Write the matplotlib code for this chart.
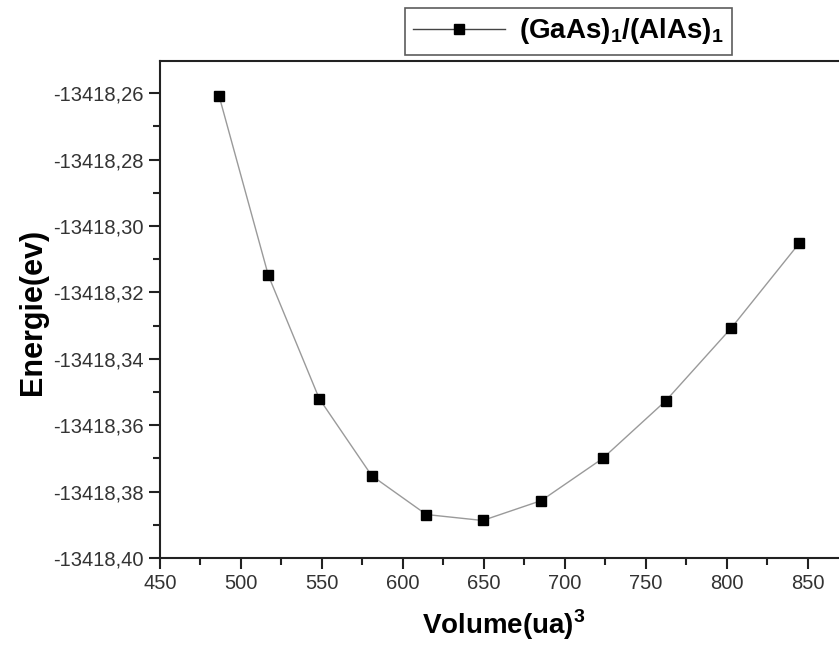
import matplotlib
matplotlib.use("Agg")
import matplotlib.pyplot as plt
from matplotlib.ticker import MultipleLocator, FuncFormatter

plt.rcParams['font.family'] = ['Liberation Sans', 'DejaVu Sans']
plt.rcParams['mathtext.fontset'] = 'custom'
plt.rcParams['mathtext.rm'] = 'Liberation Sans'
plt.rcParams['mathtext.bf'] = 'Liberation Sans:bold'

# data
volume = [486.4, 516.9, 548.3, 580.7, 614.4, 649.2, 685.4, 723.3, 762.3, 802.7, 844.6]
energie = [-13418.2607, -13418.3149, -13418.3520, -13418.3752, -13418.3869, -13418.3887,
           -13418.3827, -13418.3700, -13418.3526, -13418.3307, -13418.3052]
serie_label = r'$\mathbf{(GaAs)_1/(AlAs)_1}$'

fig = plt.figure(figsize=(8.39, 6.46), dpi=100)
ax = fig.add_axes([0.1907, 0.1362, 0.8206, 0.7694])

ax.plot(volume, energie, color='#9a9a9a', lw=1, marker='s', ms=6.5,
        mfc='black', mec='black', label=serie_label)

ax.set_xlim(450, 875)
ax.set_ylim(-13418.40, -13418.2503)
ax.xaxis.set_major_locator(MultipleLocator(50))
ax.xaxis.set_minor_locator(MultipleLocator(25))
ax.yaxis.set_major_locator(MultipleLocator(0.02))
ax.yaxis.set_minor_locator(MultipleLocator(0.01))
ax.yaxis.set_major_formatter(FuncFormatter(lambda v, p: ('%.2f' % v).replace('.', ',')))

for s in ax.spines.values():
    s.set_linewidth(1.5)
    s.set_color('#222222')
ax.tick_params(which='major', direction='out', length=8, width=1.5,
               labelsize=14.5, labelcolor='#333333', color='#222222')
ax.tick_params(which='minor', direction='out', length=5, width=1.5, color='#222222')

ax.set_xlabel(r'Volume(ua)$^{\mathbf{3}}$', fontsize=20, fontweight='bold')
ax.set_ylabel('Energie(ev)', fontsize=22, fontweight='bold')
ax.xaxis.set_label_coords(0.5, -0.1)
ax.yaxis.set_label_coords(-0.163, 0.495)

leg = fig.legend(loc='upper left', bbox_to_anchor=(405 / 839, 1 - 8 / 646),
                 fontsize=20, frameon=True, fancybox=False, handlelength=3.3,
                 borderpad=0.3, handletextpad=0.5, borderaxespad=0)
leg.get_frame().set_edgecolor('#333333')
leg.get_frame().set_linewidth(1.2)
leg.get_lines()[0].set_color('#444444')

fig.savefig('out.png', dpi=100)
